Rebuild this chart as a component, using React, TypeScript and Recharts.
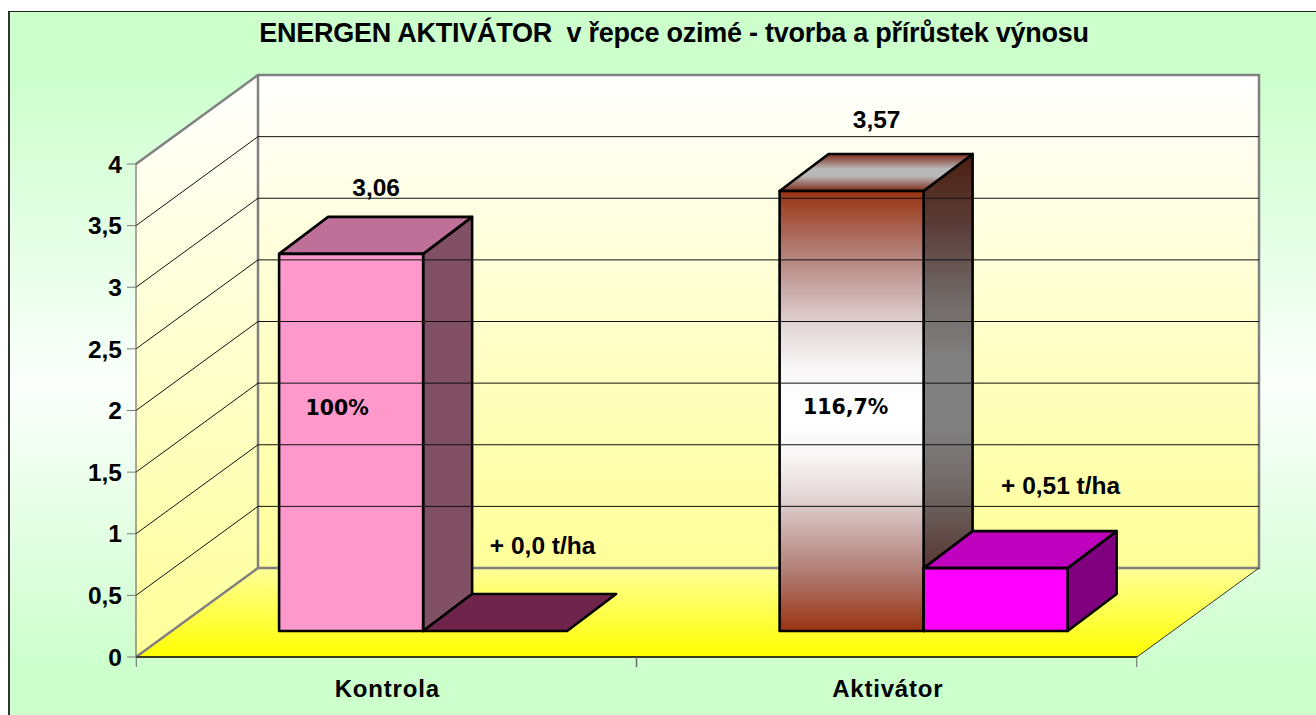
import { BarChart, Bar, XAxis, YAxis, LabelList, ReferenceArea, ReferenceLine } from "recharts";

const categories = ["Kontrola", "Aktivátor"];
const vynos = [3.06, 3.57];
const prirustek = [0, 0.51];
const percentLabels = ["100%", "116,7%"];
const gainLabels = ["+ 0,0 t/ha", "+ 0,51 t/ha"];
const yTicks = [0, 0.5, 1, 1.5, 2, 2.5, 3, 3.5, 4];

const data = categories.map((name, i) => ({
  name,
  vynos: vynos[i],
  prirustek: prirustek[i],
}));

const ARIAL = '"Liberation Sans", Arial, sans-serif';
const VERDANA = '"DejaVu Sans", Verdana, sans-serif';

// floor depth and where the bars stand on it
const WALL_DX = 122;
const WALL_DY = 89;
const BAR_DX = 36.5;
const BAR_DY = 26;
const DEPTH_DX = 49;
const DEPTH_DY = 37;

const vynosFaces = [
  { front: "#ff99cc", top: "#bf7098", side: "#825064" },
  { front: "url(#brownFront)", top: "url(#brownTop)", side: "url(#brownSide)" },
];
const prirustekFaces = [
  { front: "#6f254b", top: "#6f254b", side: "#6f254b" },
  { front: "#ff00ff", top: "#bf00bf", side: "#800080" },
];

// label offsets from the bar's top centre, per category
const valueShift = [
  { dx: 25, dy: 66 },
  { dx: 25, dy: 71 },
];
const gainShift = [
  { dx: 47.5, dy: 86 },
  { dx: 65, dy: 83 },
];
const percentShift = [
  { dx: -14, dy: 154 },
  { dx: -6, dy: 216 },
];

const mirrored = (id: string, stops: [number, string][]) => (
  <linearGradient id={id} x1="0" y1="0" x2="0" y2="1">
    {stops.map(([o, c]) => (
      <stop key={`a${o}`} offset={`${o}%`} stopColor={c} />
    ))}
    {[...stops].reverse().map(([o, c]) => (
      <stop key={`b${o}`} offset={`${100 - o}%`} stopColor={c} />
    ))}
  </linearGradient>
);

const Walls = (props: any) => {
  const { x, y, width, height } = props;
  const bottom = y + height;
  const right = x + width;
  return (
    <g>
      <defs>
        <linearGradient id="wall" x1="0" y1="0" x2="0" y2="1">
          <stop offset="0%" stopColor="#ffffff" />
          <stop offset="100%" stopColor="#ffff99" />
        </linearGradient>
        <linearGradient id="floor" x1="0" y1="0" x2="0" y2="1">
          <stop offset="0%" stopColor="#ffff99" />
          <stop offset="100%" stopColor="#ffff00" />
        </linearGradient>
        {mirrored("brownFront", [
          [0, "#993311"],
          [13, "#b07a72"],
          [22, "#c8a8a5"],
          [31, "#e4d8d8"],
          [40, "#f8f6f6"],
          [48, "#ffffff"],
        ])}
        {mirrored("brownTop", [
          [0, "#7f2e1a"],
          [20, "#9c7068"],
          [40, "#b8b8b8"],
        ])}
        {mirrored("brownSide", [
          [0, "#4d1f10"],
          [15, "#5a3d38"],
          [30, "#706866"],
          [43, "#808080"],
        ])}
      </defs>
      <polygon
        points={`${x},${bottom} ${x + WALL_DX},${bottom - WALL_DY} ${x + WALL_DX},${y - WALL_DY} ${x},${y}`}
        fill="url(#wall)"
      />
      <rect x={x + WALL_DX} y={y - WALL_DY} width={width} height={height} fill="url(#wall)" />
      <polygon
        points={`${x},${bottom} ${x + WALL_DX},${bottom - WALL_DY} ${right + WALL_DX},${bottom - WALL_DY} ${right},${bottom}`}
        fill="url(#floor)"
      />
      <path
        d={`M${x},${y} L${x + WALL_DX},${y - WALL_DY} H${right + WALL_DX} V${bottom - WALL_DY} H${x + WALL_DX} V${y - WALL_DY} M${x},${bottom} L${x + WALL_DX},${bottom - WALL_DY}`}
        fill="none"
        stroke="#808080"
        strokeWidth={2.5}
      />
      <line x1={right} y1={bottom} x2={right + WALL_DX} y2={bottom - WALL_DY} stroke="#333" strokeWidth={1} />
    </g>
  );
};

const GridLine = (props: any) => {
  const { x1, x2, y1 } = props;
  return (
    <path
      d={`M${x1},${y1} L${x1 + WALL_DX},${y1 - WALL_DY} H${x2 + WALL_DX}`}
      fill="none"
      stroke="#111"
      strokeWidth={1}
    />
  );
};

const Box = (props: any) => {
  const { x, y, width, height, index, faces } = props;
  const f = faces[index];
  const fx = x + BAR_DX;
  const fy = y - BAR_DY;
  const stroke = { stroke: "#000", strokeWidth: 2.6, strokeLinejoin: "round" as const };
  if (height < 0.5) {
    return (
      <polygon
        points={`${fx},${fy} ${fx + DEPTH_DX},${fy - DEPTH_DY} ${fx + width + DEPTH_DX},${fy - DEPTH_DY} ${fx + width},${fy}`}
        fill={f.top}
        {...stroke}
      />
    );
  }
  return (
    <g>
      <polygon
        points={`${fx + width},${fy} ${fx + width + DEPTH_DX},${fy - DEPTH_DY} ${fx + width + DEPTH_DX},${fy + height - DEPTH_DY} ${fx + width},${fy + height}`}
        fill={f.side}
        {...stroke}
      />
      <polygon
        points={`${fx},${fy} ${fx + DEPTH_DX},${fy - DEPTH_DY} ${fx + width + DEPTH_DX},${fy - DEPTH_DY} ${fx + width},${fy}`}
        fill={f.top}
        {...stroke}
      />
      <rect x={fx} y={fy} width={width} height={height} fill={f.front} {...stroke} />
    </g>
  );
};

const labelStyle = { fontFamily: ARIAL, fontWeight: 700, fontSize: 24.5, fill: "#000" };

const ValueLabel = (props: any) => {
  const { x, y, width, index, value } = props;
  const s = valueShift[index];
  return (
    <text x={x + BAR_DX + width / 2 + s.dx} y={y - BAR_DY - s.dy} textAnchor="middle" dominantBaseline="central" {...labelStyle}>
      {String(value).replace(".", ",")}
    </text>
  );
};

const PercentLabel = (props: any) => {
  const { x, y, width, index } = props;
  const s = percentShift[index];
  return (
    <text
      x={x + BAR_DX + width / 2 + s.dx}
      y={y - BAR_DY + s.dy}
      textAnchor="middle"
      dominantBaseline="central"
      fontFamily={VERDANA}
      fontWeight={700}
      fontSize={20.5}
      fill="#000"
    >
      {percentLabels[index]}
    </text>
  );
};

const GainLabel = (props: any) => {
  const { x, y, width, index } = props;
  const s = gainShift[index];
  return (
    <text x={x + BAR_DX + width / 2 + s.dx} y={y - BAR_DY - s.dy} textAnchor="middle" dominantBaseline="central" {...labelStyle}>
      {gainLabels[index]}
    </text>
  );
};

const CategoryTick = (props: any) => {
  const { x, y, payload } = props;
  const half = 250;
  return (
    <g>
      <line x1={x - half} x2={x - half} y1={657} y2={667} stroke="#666" />
      <line x1={x + half} x2={x + half} y1={657} y2={667} stroke="#666" />
      <text
        x={x + 1}
        y={y + 32}
        textAnchor="middle"
        fontFamily={ARIAL}
        fontWeight={700}
        fontSize={24}
        letterSpacing={0.8}
        fill="#000"
      >
        {payload.value}
      </text>
    </g>
  );
};

export default function App() {
  return (
    <div style={{ position: "absolute", left: 0, top: 0, width: 1316, height: 715, overflow: "hidden", background: "#fff" }}>
      <div
        style={{
          position: "absolute",
          left: 8,
          top: 11,
          width: 1320,
          height: 720,
          boxSizing: "border-box",
          borderLeft: "2px solid #333",
          borderTop: "1px solid #222",
          background: "linear-gradient(180deg, #ccffcc 0%, #ccffcc 8%, #fbfffc 52%, #ccffcc 92%, #ccffcc 100%)",
        }}
      />
      <div
        style={{
          position: "absolute",
          left: 0,
          top: 19,
          width: 1348,
          textAlign: "center",
          whiteSpace: "pre",
          fontFamily: ARIAL,
          fontWeight: 700,
          fontSize: 27,
          letterSpacing: -0.25,
          lineHeight: "28px",
          color: "#000",
        }}
      >
        ENERGEN AKTIVÁTOR  v řepce ozimé - tvorba a přírůstek výnosu
      </div>
      <div style={{ position: "absolute", left: 0, top: 0 }}>
        <BarChart
          width={1316}
          height={715}
          data={data}
          margin={{ top: 164, right: 179, bottom: 28, left: 76 }}
          barCategoryGap="21.3%"
          barGap={0}
        >
          <ReferenceArea y1={0} y2={4} shape={<Walls />} ifOverflow="visible" />
          {yTicks.slice(1, -1).map((t) => (
            <ReferenceLine key={t} y={t} shape={<GridLine />} ifOverflow="visible" />
          ))}
          <XAxis
            dataKey="name"
            height={30}
            tickLine={false}
            axisLine={{ stroke: "#3c3c20", strokeWidth: 2 }}
            tick={<CategoryTick />}
            interval={0}
          />
          <YAxis
            width={60}
            type="number"
            domain={[0, 4]}
            ticks={yTicks}
            interval={0}
            tickFormatter={(v: number) => String(v).replace(".", ",")}
            tickSize={9}
            tickMargin={5}
            axisLine={{ stroke: "#555" }}
            tickLine={{ stroke: "#777" }}
            tick={{ fontFamily: ARIAL, fontWeight: 700, fontSize: 24.5, fill: "#000" }}
          />
          <Bar dataKey="vynos" isAnimationActive={false} shape={(p: any) => <Box {...p} faces={vynosFaces} />}>
            <LabelList dataKey="vynos" content={<ValueLabel />} />
            <LabelList dataKey="vynos" content={<PercentLabel />} />
          </Bar>
          <Bar dataKey="prirustek" isAnimationActive={false} shape={(p: any) => <Box {...p} faces={prirustekFaces} />}>
            <LabelList dataKey="prirustek" content={<GainLabel />} />
          </Bar>
        </BarChart>
      </div>
    </div>
  );
}
